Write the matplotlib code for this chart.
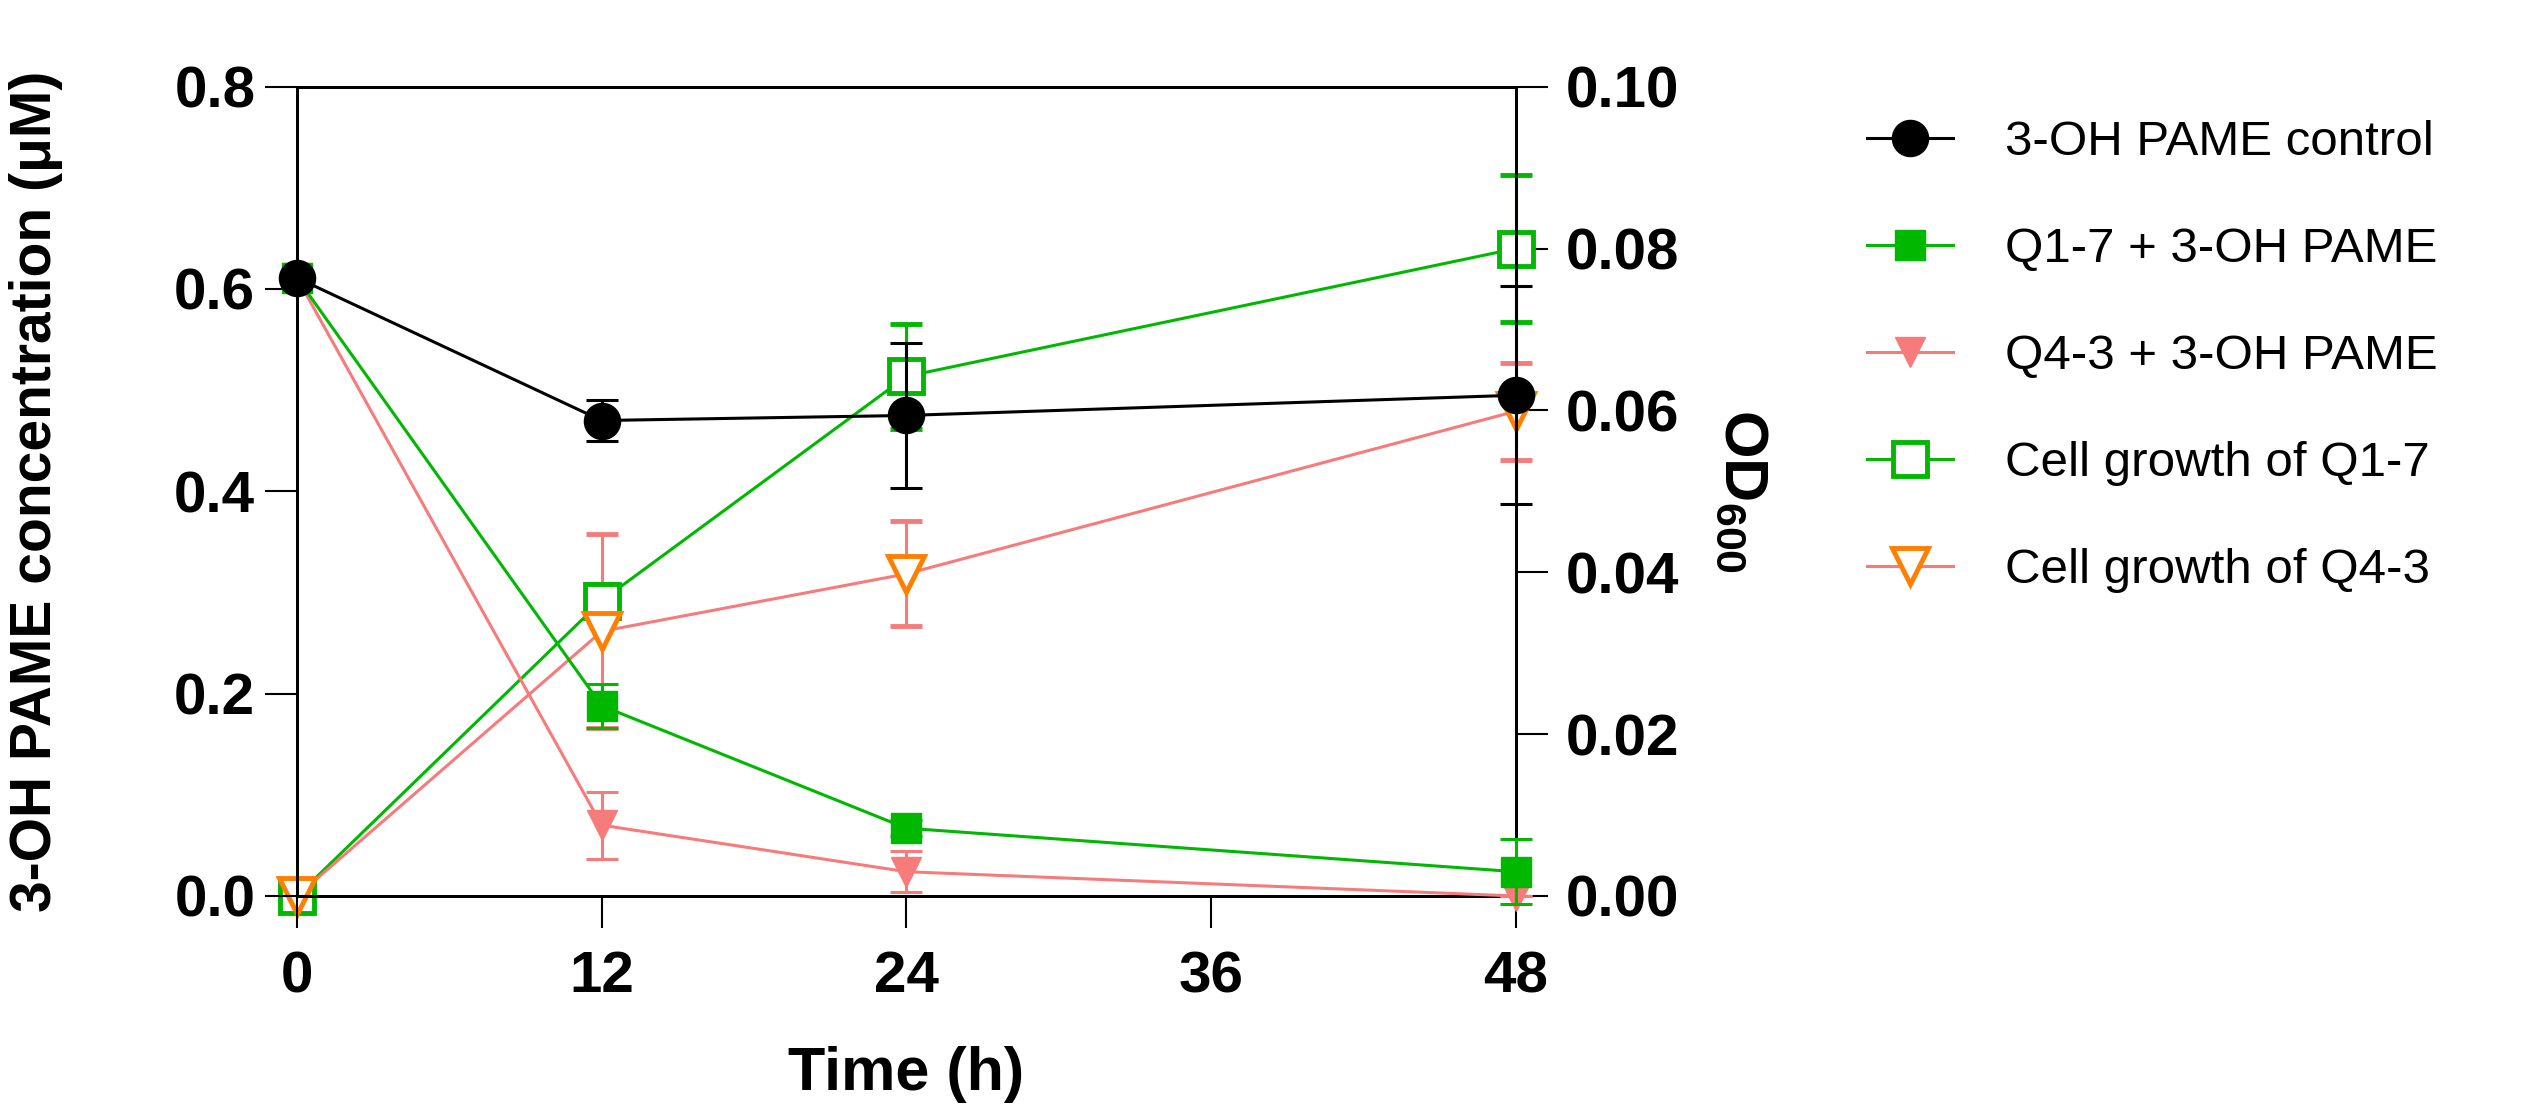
import matplotlib
matplotlib.use("Agg")
import matplotlib.pyplot as plt
from matplotlib.ticker import FormatStrFormatter

plt.rcParams["font.family"] = ["Liberation Sans", "DejaVu Sans"]
plt.rcParams["mathtext.fontset"] = "custom"
plt.rcParams["mathtext.rm"] = "Liberation Sans"
plt.rcParams["mathtext.bf"] = "Liberation Sans:bold"

# time points (h)
time = [0, 12, 24, 48]

# 3-OH PAME concentration (uM), left axis
control = [0.611, 0.470, 0.475, 0.495]
control_err = [0.0, 0.020, 0.072, 0.108]
q17 = [0.611, 0.188, 0.067, 0.024]
q17_err = [0.0, 0.022, 0.008, 0.032]
q43 = [0.611, 0.070, 0.024, 0.0]
q43_err = [0.0, 0.033, 0.020, 0.0]

# OD600, right axis
growth_q17 = [0.0, 0.0365, 0.0642, 0.0800]
growth_q17_err = [0.0, 0.002, 0.0065, 0.0091]
growth_q43 = [0.0, 0.0327, 0.0398, 0.0599]
growth_q43_err = [0.0, 0.012, 0.0065, 0.006]

labels = ["3-OH PAME control", "Q1-7 + 3-OH PAME", "Q4-3 + 3-OH PAME",
          "Cell growth of Q1-7", "Cell growth of Q4-3"]

GREEN = "#00B800"
PINK = "#F77B7B"
ORANGE = "#FF7F00"

fig = plt.figure(figsize=(25.21, 11.14), dpi=100)
ax = fig.add_axes([0.1178, 0.1957, 0.4835, 0.7265])
ax2 = ax.twinx()
ax.set_zorder(ax2.get_zorder() + 1)
ax.patch.set_visible(False)

lw = 2.2
eb = dict(capsize=11.5, elinewidth=lw, capthick=lw, clip_on=False)

# right axis: cell growth
l4 = ax2.errorbar(time, growth_q17, yerr=growth_q17_err, color=GREEN, lw=lw,
                  marker="s", ms=24, mfc="white", mec=GREEN, mew=3.5, ecolor=GREEN, **eb)
l5 = ax2.errorbar(time, growth_q43, yerr=growth_q43_err, color=PINK, lw=lw,
                  marker="v", ms=26, mfc="white", mec=ORANGE, mew=3.5, ecolor=PINK, **eb)

# left axis: 3-OH PAME
l3 = ax.errorbar(time, q43, yerr=q43_err, color=PINK, lw=lw, marker="v", ms=22,
                 mfc=PINK, mec=PINK, ecolor=PINK, zorder=3, **eb)
l2 = ax.errorbar(time, q17, yerr=q17_err, color=GREEN, lw=lw, marker="s", ms=22,
                 mfc=GREEN, mec=GREEN, ecolor=GREEN, zorder=4, **eb)
l1 = ax.errorbar(time, control, yerr=control_err, color="black", lw=lw, marker="o", ms=26,
                 mfc="black", mec="black", ecolor="black", zorder=5, **eb)

for c in (l1, l2, l3, l4, l5):
    for art in c.lines[1] + c.lines[2]:
        art.set_clip_on(False)
    c.lines[0].set_clip_on(False)

ax.set_xlim(0, 48)
ax.set_ylim(0, 0.8)
ax2.set_ylim(0, 0.10)
ax.set_xticks([0, 12, 24, 36, 48])
ax.set_yticks([0.0, 0.2, 0.4, 0.6, 0.8])
ax2.set_yticks([0.0, 0.02, 0.04, 0.06, 0.08, 0.10])
ax.yaxis.set_major_formatter(FormatStrFormatter("%.1f"))
ax2.yaxis.set_major_formatter(FormatStrFormatter("%.2f"))

for a in (ax, ax2):
    for s in a.spines.values():
        s.set_linewidth(2.0)
ax.tick_params(axis="both", direction="out", length=23, width=1.5, labelsize=42)
ax.tick_params(axis="x", pad=16)
ax.tick_params(axis="y", pad=7)
ax2.tick_params(axis="y", direction="out", length=23, width=1.5, labelsize=42, pad=13)
for t in ax.get_xticklabels() + ax.get_yticklabels() + ax2.get_yticklabels():
    t.set_fontweight("bold")

ax.set_xlabel("Time (h)", fontsize=44, fontweight="bold")
ax.xaxis.set_label_coords(0.5, -0.22)
ax.xaxis.label.set_va("center")
ax.set_ylabel("3-OH PAME concentration (μM)", fontsize=41, fontweight="bold")
ax.yaxis.set_label_coords(-0.214, 0.5)
ax.yaxis.label.set_va("center")
ax2.set_ylabel(r"$\mathbf{OD_{600}}$", fontsize=44, rotation=270)
ax2.yaxis.set_label_coords(1.185, 0.5)
ax2.yaxis.label.set_va("center")

handles = [l1.lines[0], l2.lines[0], l3.lines[0], l4.lines[0], l5.lines[0]]
fig.legend(handles, labels, loc="upper left", bbox_to_anchor=(0.7406, 0.8923),
           frameon=False, fontsize=35.5, handlelength=1.75, handletextpad=1.04,
           labelspacing=1.26, borderpad=0, borderaxespad=0)

fig.savefig("out.png", dpi=100)
